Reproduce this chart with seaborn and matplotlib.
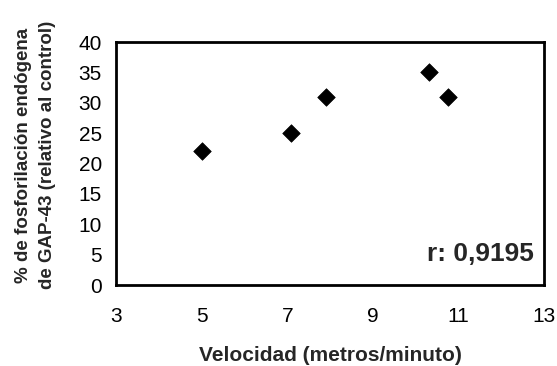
import matplotlib
matplotlib.use("Agg")
import matplotlib.pyplot as plt
import seaborn as sns
import pandas as pd

velocidad = [5.0, 7.1, 7.9, 10.3, 10.75]
fosforilacion = [22, 25, 31, 35, 31]
x_ticks = [3, 5, 7, 9, 11, 13]
y_ticks = [0, 5, 10, 15, 20, 25, 30, 35, 40]
x_label = "Velocidad (metros/minuto)"
y_label = "% de fosforilación endógena\nde GAP-43 (relativo al control)"
r_text = "r: 0,9195"

sns.set_style("white")
plt.rcParams['font.family'] = ['Liberation Sans', 'DejaVu Sans']

df = pd.DataFrame({"x": velocidad, "y": fosforilacion})

fig = plt.figure(figsize=(5.57, 3.66), dpi=100)
ax = fig.add_axes([0.208, 0.221, 0.769, 0.664])
sns.scatterplot(data=df, x="x", y="y", ax=ax, marker="D", s=80,
                color="black", edgecolor="black", linewidth=0.5)

ax.set_xlim(3, 13)
ax.set_ylim(0, 40)
ax.set_xticks(x_ticks)
ax.set_yticks(y_ticks)
ax.tick_params(axis="both", direction="out", length=3, width=1, colors="black",
               labelsize=15, pad=7)
ax.tick_params(axis="x", pad=13)
for s in ax.spines.values():
    s.set_visible(True)
    s.set_color("black")
    s.set_linewidth(2)

ax.set_xlabel(x_label, fontsize=15, fontweight="bold", labelpad=14)
ax.set_ylabel(y_label, fontsize=13.5, fontweight="bold", linespacing=1.5)
ax.yaxis.set_label_coords(-0.14, 0.535)
ax.text(0.975, 0.08, r_text, transform=ax.transAxes, ha="right", va="bottom",
        fontsize=19, fontweight="bold")

fig.savefig("out.png", dpi=100)
